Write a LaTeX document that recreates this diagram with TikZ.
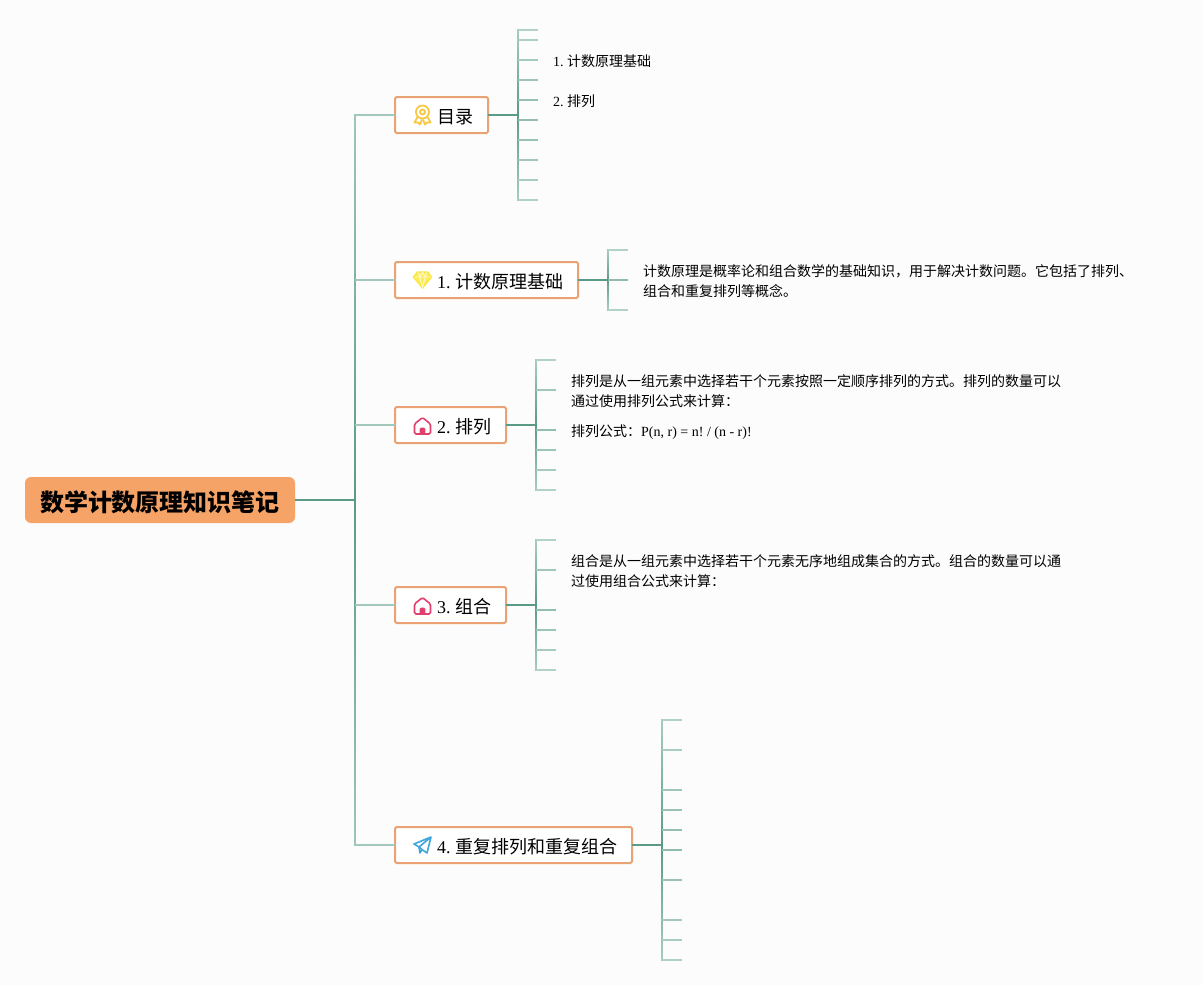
\documentclass[tikz,border=0pt]{standalone}
\usepackage{fontspec}
\setmainfont{Liberation Serif}
\newfontfamily\cjk{Noto Sans CJK SC}
\usetikzlibrary{calc}
\frenchspacing

\definecolor{paper}{HTML}{FCFCFC}
\definecolor{rootfill}{HTML}{F5A367}
\definecolor{boxedge}{HTML}{E9A273}
\definecolor{stemdark}{HTML}{5C9A88}
\definecolor{stempale}{HTML}{B5D5CA}
\definecolor{medalgold}{HTML}{F6C945}
\definecolor{gemyellow}{HTML}{FBE93F}
\definecolor{houserose}{HTML}{E0406B}
\definecolor{planeblue}{HTML}{3FA6DC}

\tikzset{
	rootbox/.style={fill=rootfill,rounded corners=6,minimum width=270,minimum height=46,inner sep=0,text height=23,text depth=0.8,
		font=\fontsize{24}{28}\selectfont\cjk\bfseries},
	topicbox/.style={draw=boxedge,line width=2,fill=white,rounded corners=1.5,anchor=west,outer sep=0,minimum height=36,inner xsep=15,inner ysep=0,
		text height=17,text depth=0.3,font=\fontsize{18}{22}\selectfont},
	leaftext/.style={anchor=west,inner sep=0,align=left,font=\fontsize{14}{20}\selectfont},
	stemline/.style={stemdark,line width=2},
	medal/.pic={
		\draw[medalgold,line width=1.8] (0,-3) circle (6.5);
		\draw[medalgold,line width=1.8] (0,-3) circle (2.5);
		\draw[medalgold,line width=1.8,line join=round] (-5,2) -- (-8,7.5) -- (-4.5,7.5) -- (-2.5,9.5) -- (-0.5,4.5);
		\draw[medalgold,line width=1.8,line join=round] (5,2) -- (8,7.5) -- (4.5,7.5) -- (2.5,9.5) -- (0.5,4.5);
	},
	gem/.pic={
		\draw[gemyellow,fill=gemyellow!85,line width=1.5,line join=round] (-5,-8) -- (5,-8) -- (9,-3) -- (0,8) -- (-9,-3) -- cycle;
		\draw[white!75!gemyellow,line width=0.9] (-8,-3) -- (8,-3) (-3,-3) -- (0,7) -- (3,-3) (-4,-7.5) -- (-3,-3) -- (0,-7.5) -- (3,-3) -- (4,-7.5);
	},
	house/.pic={
		\draw[houserose,line width=1.6,rounded corners=1.5] (-8,8) -- (-8,-2) -- (0,-8.5) -- (8,-2) -- (8,8) -- cycle;
		\fill[houserose,rounded corners=1.5] (-2.8,8) -- (-2.8,1.5) -- (2.8,1.5) -- (2.8,8) -- cycle;
	},
	plane/.pic={
		\draw[planeblue,line width=1.6,line join=round] (8.5,-8) -- (-8.5,-1) -- (-3.5,2) -- (8.5,-8) -- (4.5,8) -- (-0.5,4.5) -- (-3.5,2);
		\draw[planeblue,line width=1.6,line join=round] (-3.5,2) -- (-2.5,8) -- (-0.5,4.5);
	},
}

% line that pales from its first end to its second
\newcommand{\fadeline}[4]{
	\foreach \s in {1,...,30} {
		\pgfmathsetmacro{\ta}{(\s-1)/30}
		\pgfmathsetmacro{\tb}{\s/30}
		\pgfmathsetmacro{\pct}{#3+(#4-#3)*\ta}
		\draw[stemdark!\pct!stempale,line width=1.5,line cap=rect] ($(#1)!\ta!(#2)$) -- ($(#1)!\tb!(#2)$);
	}
}
% stem, spine and ticks on the right of a topic box
\newcommand{\leaffan}[6]{
	\coordinate (#1hub) at (#2,#3);
	\coordinate (#1top) at (#2,#4);
	\coordinate (#1bot) at (#2,#5);
	\fadeline{#1hub}{#1top}{100}{15}
	\fadeline{#1hub}{#1bot}{100}{15}
	\draw[stemline] (#1.east) -- (#1hub);
	\foreach \ty in {#6} {
		\coordinate (#1tip\ty) at (#2+20,\ty);
		\pgfmathsetmacro{\pct}{42-37*abs(\ty-#3)/max(#3-#4,#5-#3)}
		\draw[stemdark!\pct!stempale,line width=1.5] (#1tip\ty -| #1hub) -- (#1tip\ty);
	}
}

\begin{document}
\begin{tikzpicture}[x=1pt,y=-1pt]
	\fill[paper] (0,0) rectangle (1203,985);
	\useasboundingbox (0,0) rectangle (1203,985);

	\node[rootbox] (root) at (160,500) {数学计数原理知识笔记};
	\node[topicbox,minimum width=93] (toc) at (395,115) {\hspace*{27pt}{\cjk 目录}};
	\node[topicbox,minimum width=183] (count) at (395,280) {\hspace*{27pt}1. {\cjk 计数原理基础}};
	\node[topicbox,minimum width=111] (perm) at (395,425) {\hspace*{27pt}2. {\cjk 排列}};
	\node[topicbox,minimum width=111] (comb) at (395,605) {\hspace*{27pt}3. {\cjk 组合}};
	\node[topicbox,minimum width=237] (rep) at (395,845) {\hspace*{27pt}4. {\cjk 重复排列和重复组合}};

	\pic at ($(toc.west)+(27.5,0)$) {medal};
	\pic at ($(count.west)+(27.5,0)$) {gem};
	\pic at ($(perm.west)+(27.5,1)$) {house};
	\pic at ($(comb.west)+(27.5,1)$) {house};
	\pic at ($(rep.west)+(27.5,0)$) {plane};

	\coordinate (hub) at (355,500);
	\coordinate (hubtop) at (355,115);
	\coordinate (hubbot) at (355,845);
	\fadeline{hub}{hubtop}{100}{25}
	\fadeline{hub}{hubbot}{100}{25}
	\draw[stemline] (root.east) -- (hub);
	\foreach \boxname in {toc,count,perm,comb,rep} {
		\draw[stemdark!20!stempale,line width=1.5] (\boxname.west -| hub) -- (\boxname.west);
	}

	\leaffan{toc}{518}{115}{30}{200}{30,40,60,80,100,120,140,160,180,200}
	\leaffan{count}{608}{280}{250}{310}{250,280,310}
	\leaffan{perm}{536}{425}{360}{490}{360,390,430,450,470,490}
	\leaffan{comb}{536}{605}{540}{670}{540,570,610,630,650,670}
	\leaffan{rep}{662}{845}{720}{960}{720,750,790,810,830,850,880,920,940,960}

	\node[leaftext] (tocone) at (553,61.5) {1. {\cjk 计数原理基础}};
	\node[leaftext] (toctwo) at (553,101.5) {2. {\cjk 排列}};
	\node[leaftext] (countnote) at (643,281) {\cjk 计数原理是概率论和组合数学的基础知识，用于解决计数问题。它包括了排列、\\\cjk 组合和重复排列等概念。};
	\node[leaftext] (permnote) at (571,391) {\cjk 排列是从一组元素中选择若干个元素按照一定顺序排列的方式。排列的数量可以\\\cjk 通过使用排列公式来计算：};
	\node[leaftext] (permrule) at (571,432) {{\cjk 排列公式：}P(n, r) = n! / (n - r)!};
	\node[leaftext] (combnote) at (571,571) {\cjk 组合是从一组元素中选择若干个元素无序地组成集合的方式。组合的数量可以通\\\cjk 过使用组合公式来计算：};
\end{tikzpicture}
\end{document}
